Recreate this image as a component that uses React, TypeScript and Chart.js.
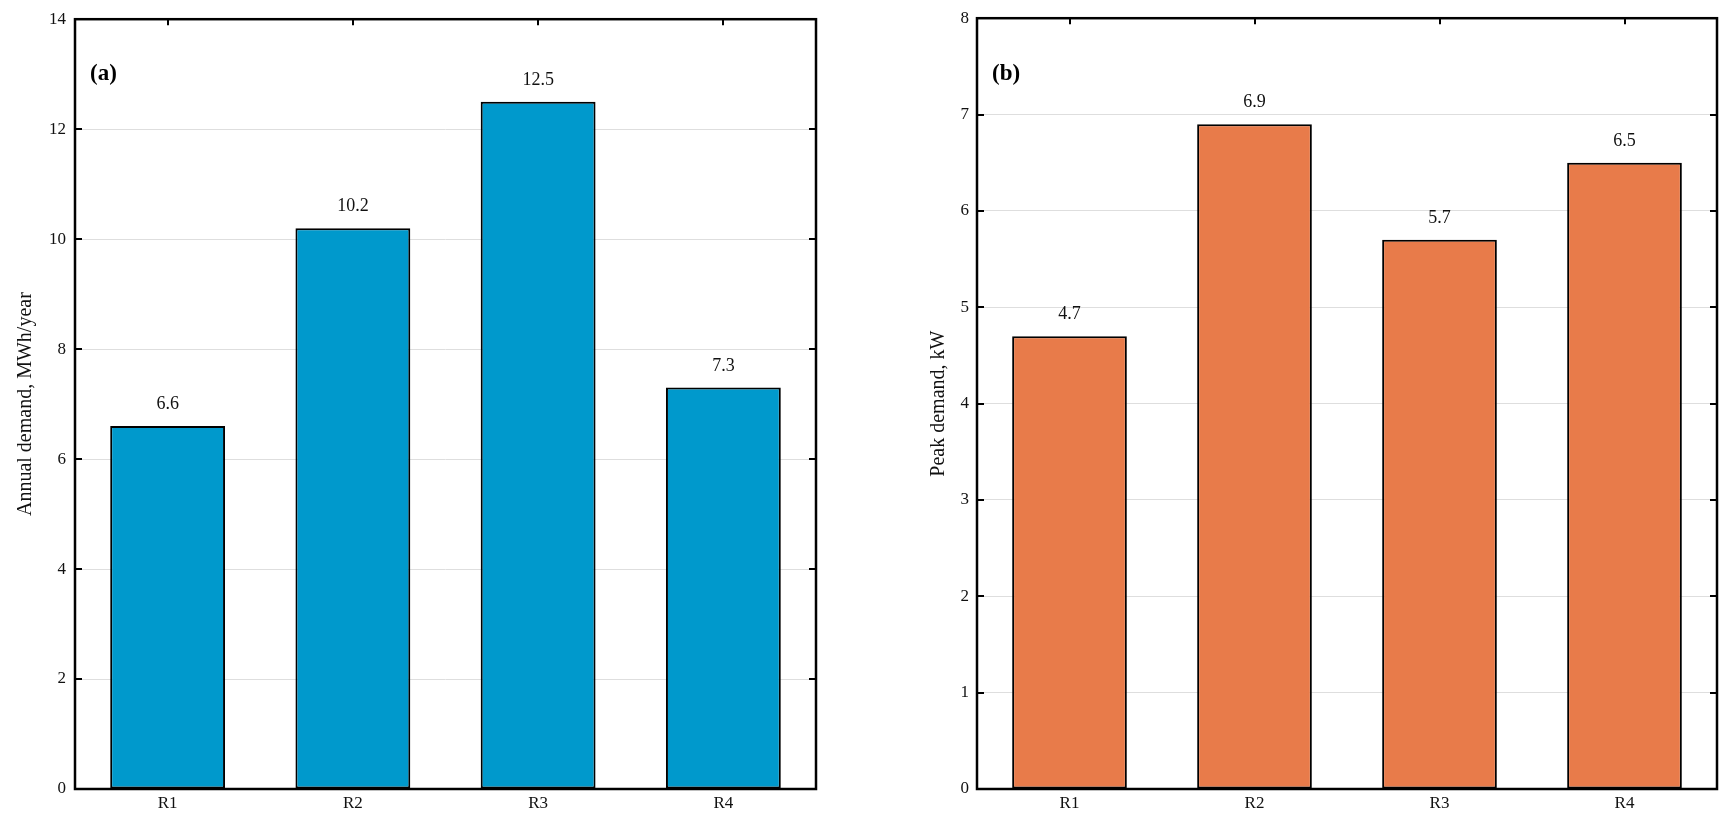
import { useEffect, useRef } from "react";
import { Chart, registerables } from "chart.js";

Chart.register(...registerables);

// Residential load profiles
const regions = ["R1", "R2", "R3", "R4"];
const annualDemand = [6.6, 10.2, 12.5, 7.3]; // MWh/year
const peakDemand = [4.7, 6.9, 5.7, 6.5]; // kW
const annualTicks = [0, 2, 4, 6, 8, 10, 12, 14];
const peakTicks = [0, 1, 2, 3, 4, 5, 6, 7, 8];

const SERIF = "'Liberation Serif', 'Times New Roman', Times, serif";

type Panel = {
  tag: string;
  values: number[];
  ticks: number[];
  color: string;
  yTitle: string;
  axisWidth: number;
  rightPad: number;
  titlePad: number;
  tickPad: number;
  left: number;
};

const panels: Panel[] = [
  {
    tag: "(a)",
    values: annualDemand,
    ticks: annualTicks,
    color: "#0099CC",
    yTitle: "Annual demand, MWh/year",
    axisWidth: 75,
    rightPad: 49,
    titlePad: 14,
    tickPad: 9,
    left: 0,
  },
  {
    tag: "(b)",
    values: peakDemand,
    ticks: peakTicks,
    color: "#E87B4A",
    yTitle: "Peak demand, kW",
    axisWidth: 112,
    rightPad: 13,
    titlePad: 62,
    tickPad: 8,
    left: 865,
  },
];

// Value labels above the bars and the panel tag in the upper-left corner
const annotatePlugin = {
  id: "annotate",
  afterDatasetsDraw(chart: any, _args: any, opts: any) {
    const { ctx, chartArea } = chart;
    const meta = chart.getDatasetMeta(0);
    const data = chart.data.datasets[0].data as number[];
    ctx.save();
    ctx.fillStyle = "#111";
    ctx.font = `18px ${SERIF}`;
    ctx.textAlign = "center";
    ctx.textBaseline = "alphabetic";
    meta.data.forEach((bar: any, i: number) => {
      ctx.fillText(data[i].toFixed(1), bar.x, bar.y - 17);
    });
    ctx.font = `bold 23px ${SERIF}`;
    ctx.textAlign = "left";
    ctx.textBaseline = "middle";
    ctx.fillStyle = "#000";
    ctx.fillText(opts.tag, chartArea.left + 15, 74);
    ctx.restore();
  },
};

// Box frame with inward tick marks
const framePlugin = {
  id: "frame",
  afterDraw(chart: any) {
    const { ctx, chartArea, scales } = chart;
    const { left, right, top, bottom } = chartArea;
    ctx.save();
    ctx.strokeStyle = "#000";
    ctx.lineWidth = 2;
    ctx.beginPath();
    scales.y.ticks.forEach((_t: any, i: number) => {
      const y = Math.round(scales.y.getPixelForTick(i));
      ctx.moveTo(left, y);
      ctx.lineTo(left + 7, y);
      ctx.moveTo(right, y);
      ctx.lineTo(right - 7, y);
    });
    scales.x.ticks.forEach((_t: any, i: number) => {
      const x = Math.round(scales.x.getPixelForTick(i));
      ctx.moveTo(x, top);
      ctx.lineTo(x, top + 6);
    });
    ctx.stroke();
    ctx.lineWidth = 2.5;
    ctx.strokeRect(left, top, right - left, bottom - top);
    ctx.restore();
  },
};

function BarPanel({ panel }: { panel: Panel }) {
  const ref = useRef<HTMLCanvasElement>(null);

  useEffect(() => {
    if (!ref.current) return;
    const t = panel.ticks;
    const chart = new Chart(ref.current, {
      type: "bar",
      data: {
        labels: regions,
        datasets: [
          {
            data: panel.values,
            backgroundColor: panel.color,
            borderColor: "#000",
            borderWidth: 2,
            borderSkipped: false,
            barPercentage: 0.62,
            categoryPercentage: 1,
          },
        ],
      },
      options: {
        responsive: false,
        animation: false,
        layout: { padding: { top: 18, right: panel.rightPad, bottom: 0, left: 0 } },
        plugins: {
          legend: { display: false },
          tooltip: { enabled: false },
          annotate: { tag: panel.tag },
        } as any,
        scales: {
          x: {
            grid: { display: false, drawTicks: false },
            border: { display: false },
            ticks: { color: "#111", padding: 4, font: { family: SERIF, size: 17 } },
            afterFit: (s: any) => {
              s.height = 34;
            },
          },
          y: {
            min: t[0],
            max: t[t.length - 1],
            afterBuildTicks: (s: any) => {
              s.ticks = t.map((v) => ({ value: v }));
            },
            grid: { color: "#dedede", lineWidth: 1, drawTicks: false },
            border: { display: false },
            ticks: { color: "#111", padding: panel.tickPad, font: { family: SERIF, size: 17 } },
            title: {
              display: true,
              text: panel.yTitle,
              color: "#111",
              font: { family: SERIF, size: 20 },
              padding: { top: panel.titlePad, bottom: 0 },
            },
            afterFit: (s: any) => {
              s.width = panel.axisWidth;
            },
          },
        },
      },
      plugins: [annotatePlugin, framePlugin],
    });
    return () => chart.destroy();
  }, [panel]);

  return (
    <canvas
      ref={ref}
      width={865}
      height={823}
      style={{ position: "absolute", left: panel.left, top: 0, width: 865, height: 823 }}
    />
  );
}

export default function App() {
  return (
    <div style={{ position: "absolute", left: 0, top: 0, width: 1730, height: 823, background: "#fff" }}>
      {panels.map((p) => (
        <BarPanel key={p.tag} panel={p} />
      ))}
    </div>
  );
}
